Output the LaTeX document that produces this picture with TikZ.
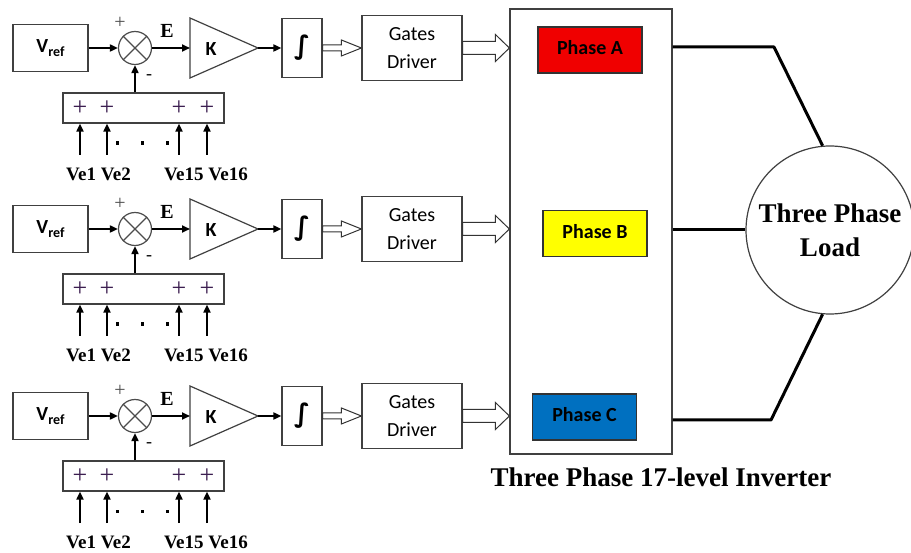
\documentclass[tikz,border=0pt]{standalone}
\usepackage{fontspec}
\setmainfont{Liberation Serif}
\newfontfamily\calfont{Carlito}
\newfontfamily\djfont{DejaVu Sans}
\usetikzlibrary{arrows.meta,calc}
\definecolor{phA}{RGB}{240,0,0}
\definecolor{phB}{RGB}{255,255,0}
\definecolor{phC}{RGB}{0,112,192}
\definecolor{plusc}{RGB}{60,30,80}
\begin{document}
\begin{tikzpicture}[x=1pt,y=-1pt,
 box/.style={draw=black!75, line width=1.2pt, fill=white, inner sep=0pt},
 arr/.style={-{Triangle[length=8pt,width=7pt]}, line width=1.8pt, black},
 hollow/.style={draw=black!80, line width=1pt, fill=white, line join=miter},
 wire/.style={line width=3pt, black, line join=round},
 phase/.style={draw=black!80, line width=1.2pt, inner sep=0pt, minimum width=104pt, minimum height=46pt, font=\calfont\bfseries\fontsize{20}{20}\selectfont},
 plussign/.style={inner sep=0pt, text=plusc, font=\fontsize{26}{26}\selectfont},
 vlab/.style={anchor=west, inner sep=0pt, font=\bfseries\fontsize{19}{19}\selectfont}
]
\useasboundingbox (0,0) rectangle (911,553);
% inverter
\node[box, minimum width=162pt, minimum height=445pt] (inv) at (591,231.5) {};
\node[phase, fill=phA] (pA) at (590,50) {\raisebox{5pt}{Phase A}};
\node[phase, fill=phB] (pB) at (595,233.5) {\raisebox{5pt}{Phase B}};
\node[phase, fill=phC] (pC) at (584.5,417) {\raisebox{5pt}{Phase C}};
\node[font=\bfseries\fontsize{27}{27}\selectfont, inner sep=0pt] (title) at (661,477) {Three Phase 17-level Inverter};
% load
\node[circle, draw=black!75, line width=1.2pt, minimum size=168pt, inner sep=0pt, align=center, font=\bfseries\fontsize{27}{34}\selectfont] (load) at (830,230) {Three Phase\\Load};
\coordinate (aout) at (inv.east |- 0,47);
\coordinate (abend) at (774,47);
\coordinate (cout) at (inv.east |- 0,420);
\coordinate (cbend) at (771,420);
\draw[wire] (aout) -- (abend) -- (load.95);
\draw[wire] (inv.east |- load.west) -- (load.west);
\draw[wire] (cout) -- (cbend) -- (load.265);
\foreach \i/\cy in {1/48,2/229,3/416}{
 \node[box, minimum width=75pt, minimum height=47pt] (vref\i) at (50.5,\cy) {\calfont\bfseries\fontsize{20}{20}\selectfont V\raisebox{-4pt}{\fontsize{14}{14}\selectfont ref}};
 \node[circle, draw=black!70, line width=1.2pt, minimum size=33pt, inner sep=0pt] (sum\i) at (135,\cy) {};
 \draw[black!70, line width=1.2pt] (sum\i.45) -- (sum\i.225) (sum\i.135) -- (sum\i.315);
 \node[inner sep=0pt, font=\fontsize{20}{20}\selectfont, text=black!70] (pl\i) at (120,\cy-25) {+};
 \node[inner sep=0pt, font=\bfseries\fontsize{20}{20}\selectfont] (e\i) at (167,\cy-17) {E};
 \node[inner sep=0pt, font=\fontsize{18}{18}\selectfont] (mi\i) at (149,\cy+29) {-};
 \coordinate (kin\i) at (190,\cy);
 \coordinate (kout\i) at (258,\cy);
 \draw[black!75, line width=1.2pt, line join=miter] (190,\cy-30) -- (kout\i) -- (190,\cy+30) -- cycle;
 \node[inner sep=0pt, font=\calfont\bfseries\fontsize{20}{20}\selectfont] (k\i) at (211,\cy+1) {K};
 \node[box, minimum width=40pt, minimum height=59pt] (int\i) at (302,\cy) {\djfont\bfseries\fontsize{26}{26}\selectfont ∫};
 \node[box, minimum width=100pt, minimum height=65pt, align=center, font=\calfont\fontsize{20}{28}\selectfont] (gd\i) at (412,\cy) {Gates\\Driver};
 \draw[arr] (vref\i) -- (sum\i);
 \draw[arr] (sum\i) -- (kin\i);
 \draw[arr] (kout\i) -- (int\i);
 % small hollow arrow
 \draw[hollow] ($(int\i.east)+(0,-3)$) -- ($(gd\i.west)+(-20,-3)$) -- ($(gd\i.west)+(-20,-8)$) -- (gd\i.west) -- ($(gd\i.west)+(-20,8)$) -- ($(gd\i.west)+(-20,3)$) -- ($(int\i.east)+(0,3)$) -- cycle;
 % large hollow arrow
 \coordinate (tip\i) at (inv.west |- gd\i.east);
 \draw[hollow] ($(gd\i.east)+(0,-6.5)$) -- ($(tip\i)+(-14,-6.5)$) -- ($(tip\i)+(-14,-13.5)$) -- (tip\i) -- ($(tip\i)+(-14,13.5)$) -- ($(tip\i)+(-14,6.5)$) -- ($(gd\i.east)+(0,6.5)$) -- cycle;
 % Vc box
 \node[box, minimum width=161pt, minimum height=30pt] (vc\i) at (143.5,\cy+60) {};
 \draw[arr] (vc\i.north -| sum\i) -- (sum\i.south);
 \foreach \x/\n in {80/a,107/b,179/c,207/d}{
  \node[plussign] at (\x,\cy+60) {+};
  \coordinate (in\i\n) at (\x,\cy+107);
  \draw[arr] (in\i\n) -- (in\i\n |- vc\i.south);
 }
 \foreach \x in {117,142,167}{
  \fill (\x-1.5,\cy+93.5) rectangle ++(3.5,3.5);
 }
 \node[vlab] (la\i) at (66,\cy+126) {Ve1 Ve2};
 \node[vlab] (lb\i) at (164,\cy+126) {Ve15 Ve16};
}
\end{tikzpicture}
\end{document}
